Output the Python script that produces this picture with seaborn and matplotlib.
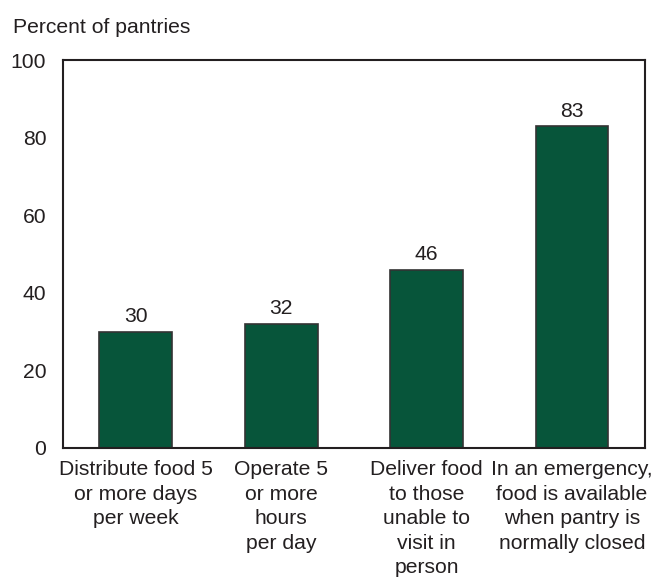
import matplotlib
matplotlib.use("Agg")
import matplotlib.pyplot as plt
import seaborn as sb
import pandas as pd

# Data
categories = ["Distribute food 5\nor more days\nper week",
              "Operate 5\nor more\nhours\nper day",
              "Deliver food\nto those\nunable to\nvisit in\nperson",
              "In an emergency,\nfood is available\nwhen pantry is\nnormally closed"]
percents = [30, 32, 46, 83]
y_ticks = [0, 20, 40, 60, 80, 100]

df = pd.DataFrame({"category": categories, "percent": percents})

sb.set_style("white")
plt.rcParams["font.family"] = ["Liberation Sans", "DejaVu Sans"]
plt.rcParams["text.color"] = "#231f20"
FS = 15.2

fig = plt.figure(figsize=(6.54, 5.77), dpi=100)
ax = fig.add_axes([0.0963, 0.2236, 0.8897, 0.6724])

sb.barplot(data=df, x="category", y="percent", color="#07553a",
           saturation=1, width=0.5, edgecolor="#333333", linewidth=1.2, ax=ax)

for i, v in enumerate(percents):
    ax.text(i, v + 1.4, str(v), ha="center", va="bottom", fontsize=FS,
            color="#231f20")

ax.set_ylim(0, 100)
ax.set_xlim(-0.5, 3.5)
ax.set_yticks(y_ticks)
ax.tick_params(axis="both", length=0, labelsize=FS, colors="#231f20", pad=9)
ax.tick_params(axis="y", pad=12)
for lbl in ax.get_xticklabels():
    lbl.set_linespacing(1.36)
ax.set_xlabel("")
ax.set_ylabel("")
for s in ax.spines.values():
    s.set_color("#231f20")
    s.set_linewidth(1.5)

fig.text(0.02, 0.952, "Percent of pantries", fontsize=FS, color="#231f20",
         ha="left", va="center")

fig.savefig("out.png", dpi=100)
